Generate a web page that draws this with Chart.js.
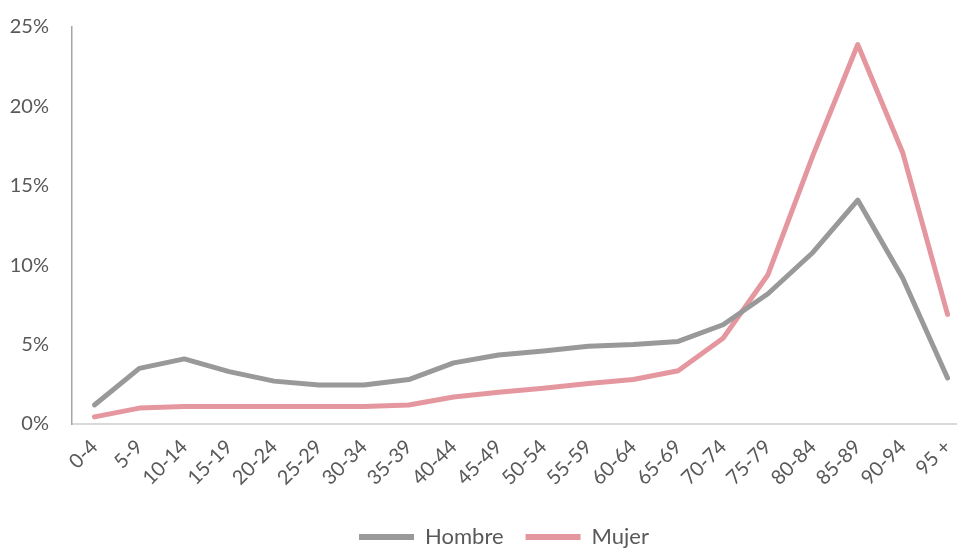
<!DOCTYPE html>
<html>
<head>
<meta charset="utf-8">
<script src="https://cdn.jsdelivr.net/npm/chart.js@4/dist/chart.umd.min.js"></script>
<style>
  html, body { margin: 0; padding: 0; overflow: hidden; background: #ffffff; }
  #wrap { width: 970px; height: 551px; }
</style>
</head>
<body>
<div id="wrap"><canvas id="c" width="970" height="551"></canvas></div>
<script>
const categories = ["0-4","5-9","10-14","15-19","20-24","25-29","30-34","35-39","40-44","45-49","50-54","55-59","60-64","65-69","70-74","75-79","80-84","85-89","90-94","95 +"];
const hombre = [1.2, 3.5, 4.1, 3.3, 2.7, 2.45, 2.45, 2.8, 3.85, 4.35, 4.6, 4.9, 5.0, 5.2, 6.25, 8.2, 10.8, 14.1, 9.2, 2.9];
const mujer  = [0.45, 1.0, 1.1, 1.1, 1.1, 1.1, 1.1, 1.2, 1.7, 2.0, 2.25, 2.55, 2.8, 3.35, 5.4, 9.4, 16.9, 23.9, 17.1, 6.9];
const yTicks = [0, 5, 10, 15, 20, 25];

const FONT = "Lato, 'Open Sans', sans-serif";
const TEXT = "#595959";
const GRAY = "#999999";
const PINK = "#e5979f";
const PLOT_TOP = 27;
const PLOT_BOTTOM = 424;
const CANVAS_H = 551;

const legendShift = {
  id: 'legendShift',
  afterLayout(chart) {
    const lg = chart.legend;
    if (!lg) return;
    lg.top += 7; lg.bottom += 7;
    lg.left += 19; lg.right += 19;
  }
};

new Chart(document.getElementById('c'), {
  type: 'line',
  data: {
    labels: categories,
    datasets: [
      { label: 'Hombre', data: hombre, borderColor: GRAY, backgroundColor: GRAY, borderWidth: 5, pointRadius: 0, tension: 0, borderJoinStyle: 'round', borderCapStyle: 'round' },
      { label: 'Mujer', data: mujer, borderColor: PINK, backgroundColor: PINK, borderWidth: 5, pointRadius: 0, tension: 0, borderJoinStyle: 'round', borderCapStyle: 'round' }
    ]
  },
  plugins: [legendShift],
  options: {
    responsive: false,
    animation: false,
    devicePixelRatio: 1,
    layout: { padding: { top: PLOT_TOP, right: 0, bottom: 0, left: 0 } },
    plugins: {
      tooltip: { enabled: false },
      legend: {
        position: 'bottom',
        labels: {
          font: { family: FONT, size: 22 },
          color: TEXT,
          boxWidth: 55,
          boxHeight: 6,
          padding: 22,
          generateLabels: (chart) => chart.data.datasets.map((ds, i) => ({
            text: ds.label, fillStyle: ds.borderColor, strokeStyle: ds.borderColor,
            lineWidth: 0, fontColor: TEXT, datasetIndex: i, hidden: false
          }))
        }
      }
    },
    scales: {
      x: {
        offset: true,
        afterFit: (s) => {
          const lh = s.chart.legend ? s.chart.legend.height : 0;
          s.height = CANVAS_H - PLOT_BOTTOM - lh;
          s.paddingLeft = 0; s.paddingRight = 0;
        },
        grid: { display: false, drawTicks: false },
        border: { display: true, color: '#d9d9d9', width: 2 },
        ticks: { font: { family: FONT, size: 20 }, color: TEXT, minRotation: 45, maxRotation: 45, padding: 11, autoSkip: false }
      },
      y: {
        min: 0, max: 25,
        afterFit: (s) => { s.width = 72; s.paddingTop = 0; s.paddingBottom = 0; },
        afterBuildTicks: (s) => { s.ticks = yTicks.map(v => ({ value: v })); },
        grid: { display: false, drawTicks: false },
        border: { display: true, color: '#a6a6a6', width: 1.5 },
        ticks: { font: { family: FONT, size: 20 }, color: TEXT, padding: 23, callback: (v) => v + '%' }
      }
    }
  }
});
</script>
</body>
</html>
